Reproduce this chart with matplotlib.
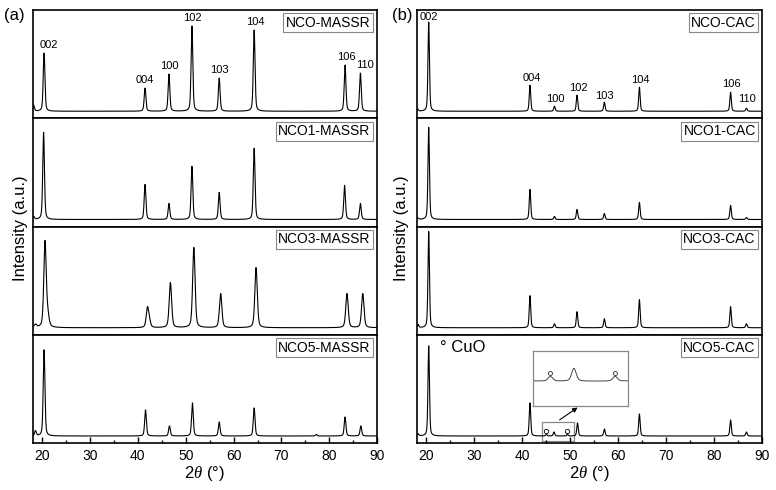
import numpy as np
import matplotlib.pyplot as plt
from matplotlib.patches import Rectangle

plt.rcParams['font.family'] = ['Liberation Sans', 'DejaVu Sans']
plt.rcParams['mathtext.fontset'] = 'custom'
plt.rcParams['mathtext.rm'] = 'Liberation Sans'
plt.rcParams['mathtext.it'] = 'Liberation Serif:italic'

# reflections
hkl = ['002', '004', '100', '102', '103', '104', '106', '110']

# panel (a): MASSR samples - peak centres (2theta, deg) and heights (a.u.)
massr_names = ['NCO-MASSR', 'NCO1-MASSR', 'NCO3-MASSR', 'NCO5-MASSR']
massr_pos = [
    [20.4, 41.5, 46.5, 51.3, 57.0, 64.3, 83.3, 86.5],
    [20.3, 41.5, 46.5, 51.3, 57.0, 64.3, 83.2, 86.5],
    [20.6, 42.0, 46.8, 51.7, 57.3, 64.7, 83.7, 87.0],
    [20.4, 41.6, 46.6, 51.4, 57.0, 64.3, 83.3, 86.6],
]
massr_int = [
    [58, 23, 37, 85, 33, 81, 46, 38],
    [87, 35, 16, 53, 27, 71, 34, 16],
    [86, 19, 45, 80, 34, 60, 34, 34],
    [86, 26, 10, 33, 14, 28, 19, 10],
]
# weak extra features (pos, height)
massr_extra_pos = [[18.2], [18.2], [18.6, 21.2, 42.4], [18.6, 77.3]]
massr_extra_int = [[6], [3], [3, 10, 6], [5, 1.5]]

# panel (b): CAC samples
cac_names = ['NCO-CAC', 'NCO1-CAC', 'NCO3-CAC', 'NCO5-CAC']
cac_pos = [
    [20.5, 41.6, 46.7, 51.4, 57.1, 64.4, 83.4, 86.7],
    [20.5, 41.6, 46.7, 51.4, 57.1, 64.4, 83.4, 86.7],
    [20.5, 41.6, 46.7, 51.4, 57.1, 64.4, 83.4, 86.7],
    [20.5, 41.6, 46.6, 51.5, 57.1, 64.4, 83.4, 86.7],
]
cac_int = [
    [89, 26, 5, 16, 9, 24, 19, 3],
    [92, 30, 3, 10, 6, 17, 14, 2],
    [96, 32, 4, 16, 9, 28, 21, 4],
    [90, 33, 4, 13, 7, 22, 16, 4],
]
cac_extra_pos = [[18.2], [18.2], [18.3], [18.3]]
cac_extra_int = [[2], [1.5], [3], [2]]

# CuO impurity in NCO5-CAC
cuo_pos = [45.0, 49.4]
cuo_int = [1.5, 1.5]

x = np.linspace(18, 90, 5000)


def profile(pos, amp, w):
    y = np.zeros_like(x)
    for p, a in zip(pos, amp):
        d = (x - p) / w
        y += a * (0.6 * np.exp(-4 * np.log(2) * d ** 2) + 0.4 / (1 + 4 * d ** 2))
    return y


fig = plt.figure(figsize=(7.76, 4.90), dpi=100)
gs_a = fig.add_gridspec(4, 1, left=0.042, right=0.486, top=0.9796, bottom=0.0959, hspace=0)
gs_b = fig.add_gridspec(4, 1, left=0.537, right=0.9823, top=0.9796, bottom=0.0959, hspace=0)


def setup(ax, last):
    ax.set_xlim(18, 90)
    ax.set_ylim(-7, 101)
    ax.set_yticks([])
    for s in ax.spines.values():
        s.set_linewidth(1.2)
    ax.set_xticks(np.arange(20, 91, 10))
    ax.set_xticks(np.arange(25, 90, 10), minor=True)
    ax.tick_params(axis='x', which='major', direction='in', length=4, width=1, labelsize=10, pad=4)
    ax.tick_params(axis='x', which='minor', direction='in', length=2.5, width=1)
    if last:
        ax.set_xlabel(r'2$\it{\theta}$ (°)', fontsize=12, labelpad=1)
    else:
        ax.tick_params(axis='x', which='both', bottom=False, labelbottom=False)


def name_box(ax, name):
    ax.text(0.981, 0.945, name, transform=ax.transAxes, ha='right', va='top', fontsize=10,
            bbox=dict(boxstyle='square,pad=0.18', fc='white', ec='#888888', lw=0.8))


# panel (a)
axes_a = []
for i in range(4):
    ax = fig.add_subplot(gs_a[i])
    w = 0.6 if i == 2 else 0.42
    y = profile(massr_pos[i] + massr_extra_pos[i], massr_int[i] + massr_extra_int[i], w)
    ax.plot(x, y, color='black', lw=0.8)
    setup(ax, i == 3)
    name_box(ax, massr_names[i])
    axes_a.append(ax)

# hkl labels on top pattern of (a)
dx_a = [0.9, 0, 0, 0.2, 0.1, 0.2, 0.2, 1.0]
for lab, p, h, dx in zip(hkl, massr_pos[0], massr_int[0], dx_a):
    axes_a[0].text(p + dx, h + 3.5, lab, ha='center', va='bottom', fontsize=8)

# panel (b)
axes_b = []
for i in range(4):
    ax = fig.add_subplot(gs_b[i])
    pos = cac_pos[i] + cac_extra_pos[i]
    amp = cac_int[i] + cac_extra_int[i]
    if i == 3:
        pos = pos + cuo_pos
        amp = amp + cuo_int
    y = profile(pos, amp, 0.36)
    ax.plot(x, y, color='black', lw=0.8)
    setup(ax, i == 3)
    name_box(ax, cac_names[i])
    axes_b.append(ax)

dx_b = [0.1, 0.3, 0.1, 0.2, 0.1, 0.2, 0.2, 0.2]
dy_b = [0, 2.5, 2.5, 2.5, 1.5, 2.5, 3.5, 4.5]
for lab, p, h, dx, dy in zip(hkl, cac_pos[0], cac_int[0], dx_b, dy_b):
    axes_b[0].text(p + dx, h + dy, lab, ha='center', va='bottom', fontsize=8)

# CuO marks, zoom box and inset in NCO5-CAC
ax5 = axes_b[3]
ax5.plot(cuo_pos, [c + 3 for c in cuo_int], 'o', ms=3.2, mfc='white', mec='black', mew=0.6)
ax5.text(0.067, 0.88, '° CuO', transform=ax5.transAxes, ha='left', va='center', fontsize=12)
ax5.add_patch(Rectangle((44.1, -5), 6.6, 19, fc='none', ec='#888888', lw=0.9))
ax5.annotate('', xy=(52.0, 30), xytext=(47.3, 14.5),
             arrowprops=dict(arrowstyle='-|>', color='black', lw=0.8, mutation_scale=7))

axin = fig.add_axes([0.6865, 0.1714, 0.1232, 0.1129])
yin = profile(cac_pos[3] + cuo_pos, cac_int[3] + cuo_int, 0.36)
axin.plot(x, yin, color='#444444', lw=0.7)
axin.plot(cuo_pos, [c + 1.2 for c in cuo_int], 'o', ms=2.8, mfc='white', mec='black', mew=0.5)
axin.set_xlim(43.8, 50.3)
axin.set_ylim(-7.7, 9.5)
axin.set_xticks([])
axin.set_yticks([])
for s in axin.spines.values():
    s.set_edgecolor('#888888')
    s.set_linewidth(0.9)

# shared labels
fig.text(0.026, 0.534, 'Intensity (a.u.)', rotation=90, ha='center', va='center', fontsize=12)
fig.text(0.518, 0.534, 'Intensity (a.u.)', rotation=90, ha='center', va='center', fontsize=12)
fig.text(0.019, 0.968, '(a)', ha='center', va='center', fontsize=12)
fig.text(0.518, 0.968, '(b)', ha='center', va='center', fontsize=12)

plt.savefig('out.png', dpi=100)
